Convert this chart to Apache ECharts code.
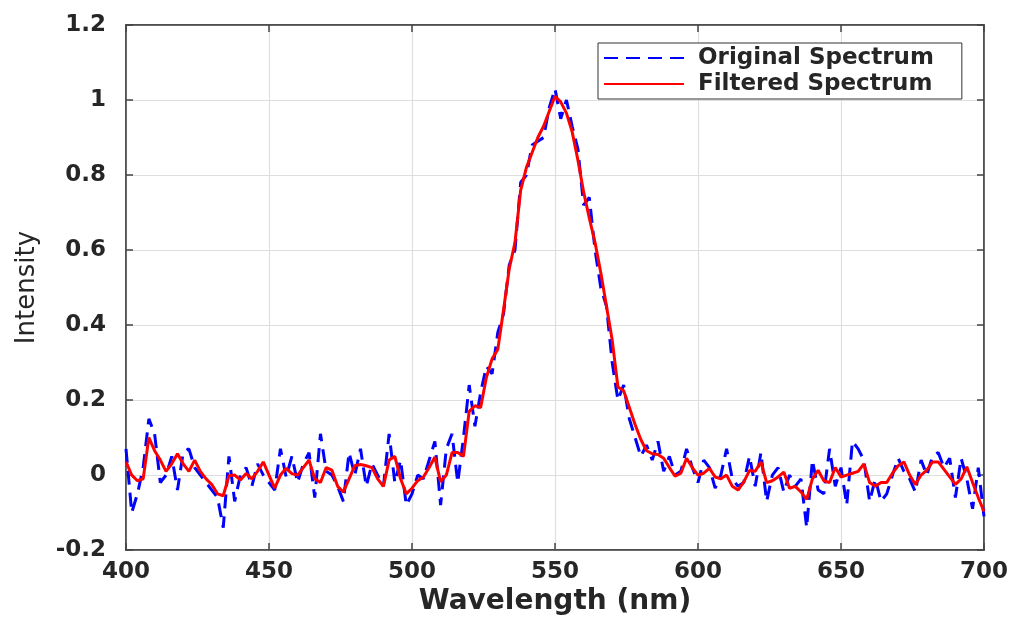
<!DOCTYPE html>
<html>
<head>
<meta charset="utf-8">
<script src="https://cdn.jsdelivr.net/npm/echarts@6/dist/echarts.min.js"></script>
<style>
  html, body { margin: 0; padding: 0; background: #fff; }
  #chart { width: 1017px; height: 621px; }
</style>
</head>
<body>
<div id="chart"></div>
<script>
// Wavelength sampling grid (nm)
const wlStart = 400;
const wlStep = 2;
// Original (noisy) spectrum, one value per 2 nm from 400 to 700 nm
const originalSpectrum = [
  0.07, -0.10, -0.05, 0.02, 0.15, 0.11, -0.02, 0.00, 0.05, -0.04,
  0.06, 0.07, 0.02, 0.00, -0.02, -0.04, -0.06, -0.14, 0.05, -0.07,
  0.00, 0.02, -0.03, 0.03, 0.00, -0.02, -0.04, 0.07, -0.005, 0.05,
  -0.02, 0.03, 0.06, -0.06, 0.11, 0.01, 0.00, -0.03, -0.07, 0.06,
  0.00, 0.07, -0.03, 0.03, 0.00, -0.03, 0.11, -0.02, 0.04, -0.08,
  -0.05, 0.00, -0.01, 0.04, 0.09, -0.08, 0.07, 0.11, -0.02, 0.10,
  0.24, 0.13, 0.22, 0.29, 0.27, 0.38, 0.43, 0.56, 0.60, 0.78,
  0.80, 0.88, 0.89, 0.90, 0.98, 1.03, 0.95, 1.00, 0.93, 0.87,
  0.72, 0.74, 0.60, 0.50, 0.45, 0.30, 0.20, 0.24, 0.15, 0.10,
  0.05, 0.08, 0.04, 0.09, 0.01, 0.05, 0.00, 0.01, 0.07, 0.02,
  -0.02, 0.04, 0.02, -0.035, 0.00, 0.07, -0.01, -0.03, -0.02, 0.05,
  -0.03, 0.06, -0.07, 0.00, 0.02, -0.045, 0.00, -0.03, -0.01, -0.14,
  0.04, -0.04, -0.05, 0.07, -0.03, 0.02, -0.08, 0.09, 0.07, 0.04,
  -0.07, -0.01, -0.07, -0.05, 0.00, 0.045, 0.01, -0.01, -0.045, 0.04,
  0.00, 0.05, 0.06, 0.02, 0.045, -0.06, 0.045, -0.01, -0.09, 0.02,
  -0.11
];
// Filtered (smoothed) spectrum, same sampling
const filteredSpectrum = [
  0.035, 0.00, -0.015, -0.01, 0.10, 0.065, 0.04, 0.01, 0.03, 0.057,
  0.03, 0.01, 0.04, 0.01, -0.01, -0.025, -0.05, -0.055, -0.002, 0.00,
  -0.013, 0.004, -0.01, 0.01, 0.035, 0.00, -0.035, 0.00, 0.018, 0.004,
  0.00, 0.02, 0.04, -0.01, -0.02, 0.02, 0.013, -0.03, -0.045, -0.01,
  0.025, 0.028, 0.025, 0.02, -0.01, -0.03, 0.04, 0.05, -0.01, -0.05,
  -0.035, -0.015, -0.005, 0.02, 0.048, -0.018, 0.00, 0.06, 0.06, 0.05,
  0.17, 0.185, 0.18, 0.26, 0.31, 0.335, 0.44, 0.55, 0.62, 0.76,
  0.82, 0.86, 0.90, 0.93, 0.97, 1.01, 0.995, 0.965, 0.915, 0.84,
  0.755, 0.685, 0.62, 0.54, 0.45, 0.36, 0.235, 0.225, 0.18, 0.135,
  0.095, 0.065, 0.057, 0.055, 0.045, 0.02, -0.003, 0.005, 0.045, 0.02,
  0.00, 0.005, 0.018, -0.005, -0.01, 0.00, -0.03, -0.04, -0.018, 0.012,
  0.01, 0.035, -0.02, -0.015, -0.005, 0.008, -0.035, -0.03, -0.045, -0.065,
  -0.01, 0.013, -0.015, -0.02, 0.02, -0.005, 0.00, 0.005, 0.01, 0.03,
  -0.02, -0.03, -0.02, -0.02, 0.005, 0.025, 0.035, 0.00, -0.025, 0.00,
  0.013, 0.035, 0.035, 0.015, -0.005, -0.025, -0.01, 0.022, -0.02, -0.06,
  -0.097
];
// Axis ticks
const xTicks = [400, 450, 500, 550, 600, 650, 700];
const yTicks = [-0.2, 0, 0.2, 0.4, 0.6, 0.8, 1, 1.2];
const seriesNames = ['Original Spectrum', 'Filtered Spectrum'];
const axisTitles = { x: 'Wavelength (nm)', y: 'Intensity' };

const wavelengths = originalSpectrum.map((_, i) => wlStart + i * wlStep);
const origData = wavelengths.map((w, i) => [w, originalSpectrum[i]]);
const filtData = wavelengths.map((w, i) => [w, filteredSpectrum[i]]);

const FONT = 'DejaVu Sans';
const TXT = '#262626';
const AX = '#444444';
const GRIDC = '#dedede';

const fmtY = v => String(parseFloat(Number(v).toFixed(1)));

const chart = echarts.init(document.getElementById('chart'), null, { renderer: 'canvas' });
chart.setOption({
  animation: false,
  backgroundColor: '#ffffff',
  grid: {
    left: 126, right: 33, top: 25, bottom: 65,
    show: true, borderColor: AX, borderWidth: 1.5, backgroundColor: 'transparent'
  },
  legend: {
    orient: 'vertical',
    left: 598, top: 43,
    data: seriesNames,
    itemWidth: 80, itemHeight: 14, itemGap: 2,
    padding: [3, 28, 3, 5],
    backgroundColor: '#ffffff',
    borderColor: '#333333', borderWidth: 1,
    itemStyle: { opacity: 0, color: 'transparent', borderWidth: 0 },
    textStyle: { fontFamily: FONT, fontWeight: 'bold', fontSize: 23, color: TXT, lineHeight: 24, padding: [0, 0, 0, 9] }
  },
  xAxis: [{
    type: 'value', min: xTicks[0], max: xTicks[xTicks.length - 1], interval: xTicks[1] - xTicks[0],
    position: 'bottom',
    name: axisTitles.x, nameLocation: 'middle', nameGap: 33,
    nameTextStyle: { fontFamily: FONT, fontWeight: 'bold', fontSize: 28, color: TXT },
    axisLine: { show: true, onZero: false, lineStyle: { color: AX, width: 1.5 } },
    axisTick: { show: true, inside: true, length: 7, lineStyle: { color: AX, width: 1.5 } },
    axisLabel: { margin: 10, fontFamily: FONT, fontWeight: 'bold', fontSize: 23, color: TXT },
    splitLine: { show: true, lineStyle: { color: GRIDC, width: 1.2 } }
  }, {
    type: 'value', min: xTicks[0], max: xTicks[xTicks.length - 1], interval: xTicks[1] - xTicks[0],
    position: 'top',
    axisLine: { show: true, onZero: false, lineStyle: { color: AX, width: 1.5 } },
    axisTick: { show: true, inside: true, length: 7, lineStyle: { color: AX, width: 1.5 } },
    axisLabel: { show: false },
    splitLine: { show: false }
  }],
  yAxis: [{
    type: 'value', min: yTicks[0], max: yTicks[yTicks.length - 1], interval: 0.2,
    position: 'left',
    name: axisTitles.y, nameLocation: 'middle', nameGap: 86, nameRotate: 90,
    nameTextStyle: { fontFamily: FONT, fontWeight: 'normal', fontSize: 26, color: TXT },
    axisLine: { show: true, onZero: false, lineStyle: { color: AX, width: 1.5 } },
    axisTick: { show: true, inside: true, length: 7, lineStyle: { color: AX, width: 1.5 } },
    axisLabel: { margin: 20, fontFamily: FONT, fontWeight: 'bold', fontSize: 23, color: TXT, formatter: fmtY },
    splitLine: { show: true, lineStyle: { color: GRIDC, width: 1.2 } }
  }, {
    type: 'value', min: yTicks[0], max: yTicks[yTicks.length - 1], interval: 0.2,
    position: 'right',
    axisLine: { show: true, onZero: false, lineStyle: { color: AX, width: 1.5 } },
    axisTick: { show: true, inside: true, length: 7, lineStyle: { color: AX, width: 1.5 } },
    axisLabel: { show: false },
    splitLine: { show: false }
  }],
  series: [{
    name: seriesNames[0], type: 'line', data: origData,
    xAxisIndex: 0, yAxisIndex: 0,
    showSymbol: false, symbol: 'none',
    lineStyle: { color: '#0000ff', width: 3, type: [14, 8] },
    itemStyle: { color: '#0000ff' },
    z: 2
  }, {
    name: seriesNames[1], type: 'line', data: filtData,
    xAxisIndex: 0, yAxisIndex: 0,
    showSymbol: false, symbol: 'none',
    lineStyle: { color: '#ff0000', width: 3, type: 'solid' },
    itemStyle: { color: '#ff0000' },
    z: 3
  }]
});
</script>
</body>
</html>
